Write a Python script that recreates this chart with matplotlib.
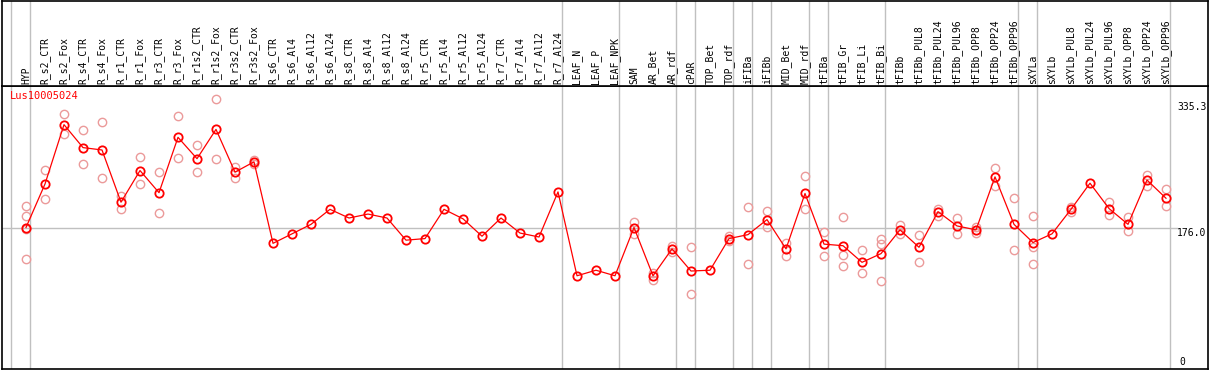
import matplotlib
matplotlib.use("Agg")
import matplotlib.pyplot as plt
import matplotlib.transforms as mtrans

# sample names (top header, rotated)
samples = ['HYP',
           'R_s2_CTR', 'R_s2_Fox', 'R_s4_CTR', 'R_s4_Fox', 'R_r1_CTR', 'R_r1_Fox',
           'R_r3_CTR', 'R_r3_Fox', 'R_r1s2_CTR', 'R_r1s2_Fox', 'R_r3s2_CTR', 'R_r3s2_Fox',
           'R_s6_CTR', 'R_s6_Al4', 'R_s6_Al12', 'R_s6_Al24',
           'R_s8_CTR', 'R_s8_Al4', 'R_s8_Al12', 'R_s8_Al24',
           'R_r5_CTR', 'R_r5_Al4', 'R_r5_Al12', 'R_r5_Al24',
           'R_r7_CTR', 'R_r7_Al4', 'R_r7_Al12', 'R_r7_Al24',
           'LEAF_N', 'LEAF_P', 'LEAF_NPK',
           'SAM', 'AR_Bet', 'AR_rdf', 'cPAR', 'TOP_Bet', 'TOP_rdf',
           'iFIBa', 'iFIBb', 'MID_Bet', 'MID_rdf', 'tFIBa',
           'tFIB_Gr', 'tFIB_Li', 'tFIB_Bi', 'tFIBb',
           'tFIBb_PUL8', 'tFIBb_PUL24', 'tFIBb_PUL96',
           'tFIBb_OPP8', 'tFIBb_OPP24', 'tFIBb_OPP96',
           'sXYLa', 'sXYLb',
           'sXYLb_PUL8', 'sXYLb_PUL24', 'sXYLb_PUL96',
           'sXYLb_OPP8', 'sXYLb_OPP24', 'sXYLb_OPP96']

# mean expression per sample
means = [177, 232, 307, 278, 275, 209, 249, 221, 291, 264, 301, 247, 260,
         157, 169, 181, 200, 189, 194, 189, 161, 163, 200, 188, 166,
         189, 170, 165, 222, 116, 123, 116,
         177, 116, 150, 122, 123, 163, 168, 187, 150, 220, 156,
         154, 133, 144, 174, 152, 197, 179, 174, 241, 181,
         158, 169, 200, 233, 201, 181, 237, 214]

# single replicates per sample
reps = [[204, 192, 175, 137], [250, 213], [320, 295], [300, 257], [310, 239],
        [217, 201], [266, 232], [247, 195], [318, 265], [281, 247], [340, 263],
        [254, 240], [262, 257],
        [], [], [], [], [], [], [], [], [], [], [], [], [], [], [], [], [], [], [],
        [184, 169], [120, 111], [154, 146], [152, 93], [], [166, 160],
        [203, 131], [198, 178], [158, 141], [242, 200], [171, 141],
        [190, 142, 128], [148, 119], [163, 156, 110], [180, 169],
        [168, 134], [201, 192], [189, 169], [178, 170], [252, 230], [214, 148],
        [192, 152, 131], [], [203, 197], [], [209, 193], [190, 172],
        [244, 230], [226, 204]]

# last sample index of each group (separators)
group_ends = [-1, 0, 28, 31, 34, 35, 37, 38, 39, 41, 42, 45, 52, 53, 60]

gene = 'Lus10005024'
ref_value = 176.0
max_value = 335.3

W, H = 1209, 370
fig = plt.figure(figsize=(W / 100, H / 100), dpi=100)
mono = 'DejaVu Sans Mono'

xlim = ((1.5 - 26) / 19, (1208 - 26) / 19)
ylim = (176 - (369 - 228.3) * 1.264, 176 + (228.3 - 86) * 1.264)

ax = fig.add_axes([1.5 / W, 1 / H, 1206.5 / W, 283 / H])
head = fig.add_axes([1.5 / W, 284 / H, 1206.5 / W, 85.5 / H])

for a in (ax, head):
    a.set_xlim(*xlim)
    a.set_xticks([])
    a.set_yticks([])
    for s in a.spines.values():
        s.set_color('black')
        s.set_linewidth(1.2)
    for g in group_ends:
        a.axvline(g + 0.21, color='#c0c0c0', lw=1.0, zorder=1)
head.set_ylim(0, 1)
ax.set_ylim(*ylim)

ax.axhline(ref_value, xmax=(1177 - 1.5) / 1206.5, color='#c0c0c0', lw=1.0, zorder=1)

# replicates
rx, ry = [], []
for i, r in enumerate(reps):
    for v in r:
        rx.append(i)
        ry.append(v)
ax.plot(rx, ry, 'o', ms=6, mfc='none', mec='#eb9a9a', mew=1.0, zorder=2)

x = list(range(len(samples)))
ax.plot(x, means, '-', color='red', lw=0.9, zorder=3)
ax.plot(x, means, 'o', ms=6, mfc='none', mec='red', mew=1.3, zorder=4)

# header labels
tr = mtrans.blended_transform_factory(head.transData, head.transAxes)
for i, name in enumerate(samples):
    head.text(i, 0.025, name, rotation=90, ha='center', va='bottom',
              fontsize=7, family=mono, transform=tr)

ax.text(8.5 / 1206.5, 0.965, gene, transform=ax.transAxes, color='red',
        fontsize=7.5, family=mono, ha='left', va='center')

rt = mtrans.blended_transform_factory(ax.transAxes, ax.transData)
ax.text((1177 - 1.5) / 1206.5, max_value, '%.1f' % max_value, transform=rt,
        fontsize=7, family=mono, ha='left', va='top')
ax.text((1177 - 1.5) / 1206.5, ref_value, '%.1f' % ref_value, transform=rt,
        fontsize=7, family=mono, ha='left', va='top')
ax.text((1179 - 1.5) / 1206.5, 0.025, '0', transform=ax.transAxes,
        fontsize=7, family=mono, ha='left', va='center')

fig.savefig('out.png', dpi=100)
